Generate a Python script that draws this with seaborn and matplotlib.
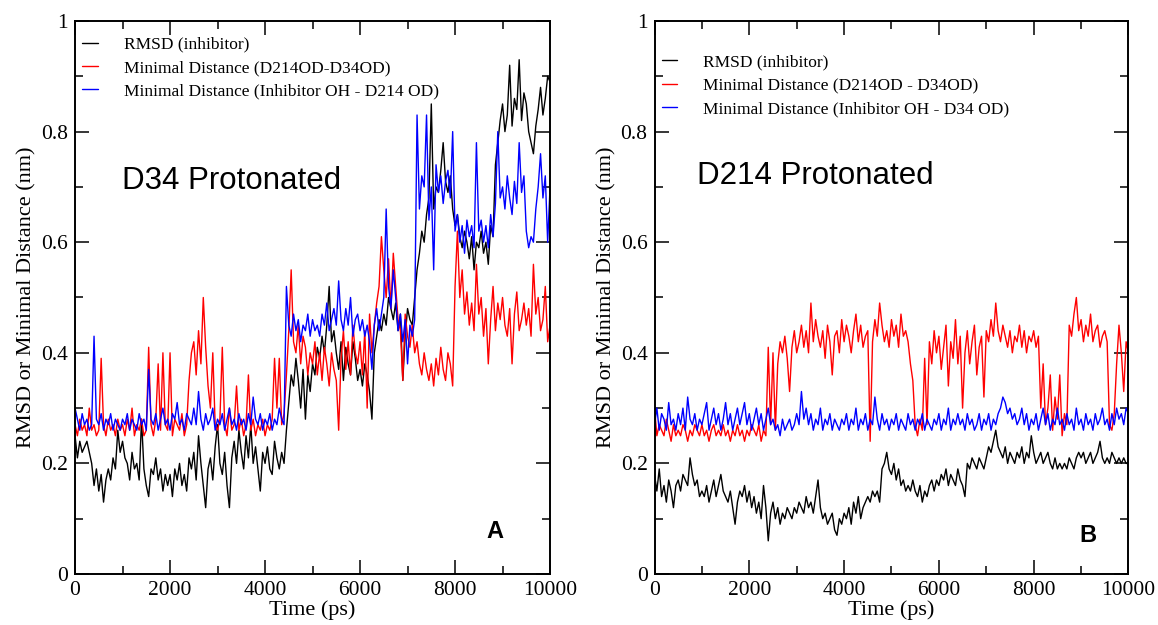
import numpy as np
import pandas as pd
import matplotlib
matplotlib.use("Agg")
import matplotlib.pyplot as plt
import seaborn as sns
from matplotlib.ticker import MultipleLocator, FuncFormatter

# ---------------- data (one sample every 50 ps) ----------------
time_ps = np.arange(0, 10001, 50)

labels_A = ["RMSD (inhibitor)",
            "Minimal Distance (D214OD-D34OD)",
            "Minimal Distance (Inhibitor OH - D214 OD)"]
labels_B = ["RMSD (inhibitor)",
            "Minimal Distance (D214OD - D34OD)",
            "Minimal Distance (Inhibitor OH - D34 OD)"]

A_rmsd = [0.25,0.21,0.24,0.22,0.23,0.24,0.22,0.20,0.16,0.19,
          0.15,0.18,0.13,0.17,0.19,0.17,0.21,0.19,0.26,0.22,
          0.24,0.21,0.20,0.17,0.22,0.19,0.20,0.17,0.28,0.19,
          0.16,0.14,0.19,0.18,0.21,0.17,0.19,0.15,0.18,0.16,
          0.18,0.14,0.19,0.17,0.20,0.16,0.18,0.15,0.21,0.19,
          0.22,0.17,0.25,0.20,0.16,0.12,0.19,0.21,0.17,0.23,
          0.27,0.20,0.18,0.22,0.16,0.12,0.21,0.24,0.20,0.26,
          0.22,0.19,0.25,0.21,0.27,0.20,0.23,0.19,0.15,0.22,
          0.20,0.23,0.19,0.18,0.24,0.21,0.19,0.22,0.20,0.26,
          0.31,0.36,0.34,0.39,0.35,0.30,0.37,0.28,0.36,0.33,
          0.38,0.36,0.41,0.39,0.43,0.40,0.45,0.52,0.42,0.44,
          0.40,0.37,0.42,0.35,0.41,0.38,0.36,0.42,0.39,0.35,
          0.37,0.34,0.38,0.36,0.33,0.28,0.40,0.43,0.46,0.44,
          0.47,0.45,0.50,0.48,0.46,0.49,0.44,0.47,0.35,0.43,
          0.48,0.46,0.45,0.50,0.55,0.58,0.62,0.60,0.65,0.68,
          0.85,0.66,0.70,0.69,0.73,0.78,0.71,0.69,0.72,0.66,
          0.63,0.65,0.61,0.59,0.62,0.60,0.57,0.61,0.55,0.60,
          0.59,0.62,0.58,0.60,0.56,0.63,0.61,0.74,0.78,0.82,
          0.85,0.80,0.83,0.92,0.81,0.86,0.84,0.93,0.82,0.87,
          0.85,0.80,0.78,0.76,0.81,0.84,0.88,0.83,0.86,0.90,
          0.89]

A_dd = [0.27,0.25,0.28,0.26,0.27,0.25,0.30,0.26,0.27,0.25,
        0.26,0.39,0.27,0.25,0.28,0.26,0.27,0.25,0.28,0.26,
        0.27,0.25,0.28,0.26,0.30,0.25,0.27,0.26,0.28,0.25,
        0.26,0.41,0.27,0.25,0.28,0.38,0.26,0.40,0.27,0.26,
        0.40,0.25,0.28,0.27,0.26,0.29,0.25,0.27,0.35,0.40,
        0.42,0.36,0.44,0.38,0.50,0.41,0.34,0.30,0.40,0.27,
        0.26,0.28,0.41,0.27,0.25,0.30,0.26,0.27,0.34,0.26,
        0.28,0.25,0.27,0.36,0.26,0.28,0.25,0.27,0.26,0.28,
        0.25,0.27,0.26,0.28,0.39,0.30,0.39,0.27,0.29,0.36,
        0.44,0.55,0.42,0.40,0.45,0.38,0.43,0.41,0.36,0.40,
        0.38,0.42,0.36,0.40,0.35,0.41,0.38,0.34,0.40,0.37,
        0.35,0.26,0.39,0.44,0.37,0.42,0.36,0.45,0.40,0.38,
        0.42,0.36,0.44,0.30,0.47,0.40,0.45,0.49,0.52,0.61,
        0.55,0.50,0.57,0.48,0.58,0.52,0.46,0.44,0.35,0.47,
        0.43,0.41,0.45,0.40,0.42,0.38,0.36,0.40,0.37,0.35,
        0.38,0.34,0.39,0.36,0.41,0.37,0.35,0.40,0.38,0.34,
        0.52,0.62,0.50,0.55,0.47,0.51,0.45,0.49,0.44,0.56,
        0.47,0.50,0.43,0.48,0.38,0.46,0.52,0.44,0.49,0.46,
        0.50,0.45,0.43,0.48,0.38,0.47,0.51,0.44,0.46,0.49,
        0.45,0.48,0.43,0.56,0.47,0.50,0.44,0.46,0.52,0.42,
        0.45]

A_inh = [0.30,0.28,0.26,0.29,0.27,0.28,0.26,0.27,0.43,0.28,
         0.27,0.29,0.26,0.28,0.27,0.29,0.26,0.28,0.27,0.26,
         0.28,0.27,0.29,0.26,0.28,0.27,0.26,0.29,0.27,0.28,
         0.26,0.37,0.28,0.27,0.29,0.26,0.28,0.30,0.27,0.28,
         0.26,0.29,0.28,0.31,0.27,0.28,0.26,0.29,0.28,0.27,
         0.30,0.27,0.33,0.28,0.26,0.29,0.27,0.28,0.30,0.26,
         0.28,0.27,0.29,0.26,0.28,0.30,0.27,0.28,0.26,0.29,
         0.27,0.28,0.26,0.29,0.27,0.32,0.28,0.27,0.29,0.26,
         0.28,0.27,0.29,0.26,0.28,0.27,0.30,0.28,0.27,0.52,
         0.45,0.43,0.47,0.44,0.46,0.42,0.45,0.44,0.47,0.43,
         0.46,0.44,0.45,0.43,0.47,0.45,0.49,0.44,0.46,0.48,
         0.45,0.53,0.46,0.44,0.48,0.45,0.50,0.43,0.46,0.47,
         0.44,0.46,0.43,0.45,0.42,0.37,0.45,0.48,0.44,0.47,
         0.50,0.66,0.52,0.48,0.55,0.50,0.44,0.47,0.42,0.46,
         0.38,0.45,0.43,0.46,0.83,0.66,0.72,0.70,0.83,0.64,
         0.70,0.55,0.74,0.69,0.72,0.67,0.71,0.73,0.68,0.80,
         0.62,0.65,0.60,0.63,0.58,0.64,0.61,0.63,0.59,0.78,
         0.62,0.64,0.60,0.63,0.59,0.65,0.61,0.67,0.80,0.68,
         0.70,0.66,0.72,0.68,0.65,0.71,0.67,0.78,0.69,0.72,
         0.62,0.59,0.61,0.60,0.66,0.70,0.76,0.68,0.72,0.60,
         0.70]

B_rmsd = [0.18,0.15,0.19,0.14,0.16,0.13,0.17,0.15,0.12,0.16,
          0.17,0.15,0.18,0.17,0.16,0.21,0.18,0.16,0.17,0.14,
          0.15,0.14,0.16,0.13,0.15,0.17,0.14,0.16,0.18,0.15,
          0.14,0.13,0.15,0.12,0.09,0.13,0.15,0.14,0.16,0.13,
          0.15,0.12,0.14,0.11,0.13,0.10,0.16,0.12,0.06,0.11,
          0.13,0.10,0.12,0.09,0.11,0.10,0.12,0.11,0.10,0.12,
          0.11,0.13,0.12,0.11,0.14,0.12,0.13,0.11,0.14,0.17,
          0.12,0.10,0.11,0.09,0.10,0.11,0.08,0.07,0.10,0.09,
          0.11,0.10,0.12,0.09,0.13,0.11,0.14,0.10,0.12,0.13,
          0.14,0.13,0.15,0.14,0.15,0.13,0.19,0.20,0.22,0.19,
          0.18,0.20,0.17,0.19,0.16,0.17,0.15,0.16,0.15,0.17,
          0.15,0.14,0.16,0.13,0.15,0.14,0.16,0.17,0.15,0.17,
          0.16,0.18,0.17,0.19,0.16,0.18,0.17,0.16,0.19,0.17,
          0.16,0.14,0.20,0.19,0.21,0.20,0.19,0.21,0.20,0.19,
          0.21,0.23,0.22,0.24,0.26,0.23,0.22,0.21,0.23,0.20,
          0.22,0.21,0.20,0.22,0.21,0.23,0.20,0.22,0.21,0.25,
          0.22,0.20,0.21,0.22,0.20,0.21,0.22,0.20,0.19,0.21,
          0.19,0.20,0.19,0.20,0.19,0.21,0.20,0.19,0.21,0.22,
          0.21,0.22,0.20,0.21,0.22,0.20,0.21,0.22,0.24,0.21,
          0.20,0.21,0.20,0.22,0.21,0.20,0.21,0.20,0.21,0.20,
          0.20]

B_dd = [0.30,0.25,0.27,0.26,0.25,0.28,0.26,0.24,0.27,0.25,
        0.26,0.25,0.27,0.26,0.24,0.26,0.25,0.27,0.26,0.25,
        0.27,0.25,0.26,0.24,0.26,0.27,0.25,0.26,0.25,0.27,
        0.25,0.26,0.24,0.26,0.25,0.27,0.25,0.26,0.24,0.26,
        0.25,0.27,0.26,0.25,0.27,0.24,0.26,0.25,0.41,0.27,
        0.40,0.26,0.38,0.42,0.40,0.43,0.39,0.33,0.41,0.44,
        0.40,0.42,0.45,0.41,0.44,0.40,0.49,0.42,0.46,0.43,
        0.41,0.44,0.39,0.45,0.42,0.36,0.43,0.44,0.40,0.46,
        0.42,0.45,0.43,0.40,0.44,0.47,0.42,0.45,0.41,0.43,
        0.44,0.24,0.42,0.46,0.43,0.49,0.45,0.42,0.44,0.41,
        0.46,0.43,0.45,0.41,0.47,0.43,0.44,0.42,0.38,0.35,
        0.27,0.25,0.28,0.26,0.39,0.27,0.42,0.38,0.44,0.40,
        0.43,0.37,0.41,0.45,0.34,0.42,0.39,0.46,0.38,0.43,
        0.30,0.40,0.44,0.38,0.42,0.45,0.36,0.41,0.43,0.32,
        0.44,0.42,0.46,0.43,0.49,0.44,0.42,0.45,0.43,0.41,
        0.44,0.40,0.43,0.42,0.45,0.41,0.44,0.40,0.43,0.42,
        0.44,0.41,0.43,0.30,0.38,0.27,0.30,0.36,0.26,0.32,
        0.28,0.36,0.25,0.29,0.27,0.45,0.43,0.47,0.50,0.44,
        0.46,0.42,0.45,0.43,0.47,0.42,0.44,0.45,0.41,0.43,
        0.44,0.42,0.27,0.26,0.29,0.38,0.45,0.40,0.33,0.42,
        0.40]

B_inh = [0.27,0.30,0.26,0.29,0.28,0.26,0.31,0.27,0.28,0.26,
         0.29,0.27,0.30,0.26,0.32,0.28,0.27,0.29,0.26,0.28,
         0.27,0.29,0.31,0.26,0.28,0.30,0.27,0.29,0.26,0.28,
         0.31,0.27,0.29,0.26,0.28,0.30,0.27,0.29,0.31,0.27,
         0.29,0.26,0.28,0.30,0.27,0.29,0.26,0.28,0.30,0.27,
         0.28,0.26,0.27,0.25,0.28,0.26,0.27,0.28,0.26,0.27,
         0.29,0.27,0.33,0.28,0.30,0.27,0.29,0.26,0.28,0.27,
         0.30,0.26,0.28,0.27,0.29,0.26,0.28,0.27,0.26,0.28,
         0.27,0.29,0.26,0.28,0.27,0.30,0.26,0.28,0.27,0.29,
         0.26,0.28,0.27,0.32,0.28,0.26,0.29,0.27,0.28,0.26,
         0.28,0.27,0.29,0.26,0.28,0.27,0.26,0.29,0.27,0.28,
         0.26,0.28,0.27,0.29,0.26,0.28,0.27,0.26,0.28,0.27,
         0.29,0.26,0.28,0.27,0.30,0.26,0.28,0.27,0.29,0.27,
         0.28,0.26,0.29,0.27,0.28,0.26,0.27,0.29,0.26,0.28,
         0.27,0.29,0.26,0.28,0.27,0.29,0.30,0.32,0.31,0.29,
         0.30,0.28,0.29,0.27,0.28,0.30,0.27,0.29,0.26,0.28,
         0.27,0.29,0.26,0.28,0.30,0.27,0.29,0.26,0.28,0.27,
         0.30,0.27,0.28,0.26,0.29,0.27,0.28,0.26,0.30,0.27,
         0.28,0.26,0.29,0.27,0.28,0.26,0.29,0.27,0.28,0.30,
         0.27,0.28,0.26,0.29,0.27,0.30,0.28,0.29,0.27,0.30,
         0.29]

series_colors = ["black", "red", "blue"]

# ---------------- figure ----------------
sns.set_theme(style="white")
plt.rcParams["font.family"] = ["Liberation Serif", "DejaVu Serif"]
plt.rcParams["axes.edgecolor"] = "black"
plt.rcParams["text.color"] = "black"
plt.rcParams["axes.labelcolor"] = "black"

fig = plt.figure(figsize=(11.58, 6.25), dpi=100)
axA = fig.add_axes([0.0648, 0.0816, 0.4102, 0.8848])
axB = fig.add_axes([0.5652, 0.0816, 0.4093, 0.8848])


def long_frame(labels, arrays):
    parts = []
    for lab, arr in zip(labels, arrays):
        parts.append(pd.DataFrame({"Time": time_ps, "Value": arr, "Series": lab}))
    return pd.concat(parts, ignore_index=True)


def draw_panel(ax, labels, arrays, title, title_xy, letter, letter_xy, legend_y):
    df = long_frame(labels, arrays)
    sns.lineplot(data=df, x="Time", y="Value", hue="Series", hue_order=labels,
                 palette=series_colors, linewidth=1.0, estimator=None,
                 sort=False, ax=ax)
    ax.set_xlim(0, 10000)
    ax.set_ylim(0, 1)
    ax.xaxis.set_major_locator(MultipleLocator(2000))
    ax.xaxis.set_minor_locator(MultipleLocator(1000))
    ax.yaxis.set_major_locator(MultipleLocator(0.2))
    ax.yaxis.set_minor_locator(MultipleLocator(0.1))
    fmt = FuncFormatter(lambda v, p: f"{v:g}")
    ax.xaxis.set_major_formatter(fmt)
    ax.yaxis.set_major_formatter(fmt)
    ax.tick_params(which="both", direction="in", top=True, right=True,
                   bottom=True, left=True, color="black", labelcolor="black")
    ax.tick_params(which="major", length=10, width=1.1, labelsize=15.5, pad=5)
    ax.tick_params(which="minor", length=5.5, width=1.1)
    for sp in ax.spines.values():
        sp.set_linewidth(1.4)
        sp.set_color("black")
    ax.set_xlabel("Time (ps)", fontsize=16, labelpad=0, color="black")
    ax.set_ylabel("RMSD or Minimal Distance (nm)", fontsize=16, labelpad=3,
                  color="black")
    leg = ax.legend(loc="upper left", bbox_to_anchor=(0.015, legend_y), frameon=False,
                    fontsize=12.5, handlelength=0.9, handletextpad=1.5,
                    labelspacing=0.42, borderaxespad=0, borderpad=0)
    for t in leg.get_texts():
        t.set_color("black")
    ax.text(title_xy[0], title_xy[1], title, family=["Liberation Sans", "DejaVu Sans"],
            fontsize=22.5, va="center", ha="left", color="black")
    ax.text(letter_xy[0], letter_xy[1], letter, family=["Liberation Sans", "DejaVu Sans"],
            fontsize=17, fontweight="bold", va="center", ha="left", color="black")


draw_panel(axA, labels_A, [A_rmsd, A_dd, A_inh], "D34 Protonated", (990, 0.711),
           "A", (8650, 0.077), 0.972)
draw_panel(axB, labels_B, [B_rmsd, B_dd, B_inh], "D214 Protonated", (897, 0.72),
           "B", (8955, 0.069), 0.94)

fig.savefig("out.png", dpi=100, facecolor="white")
